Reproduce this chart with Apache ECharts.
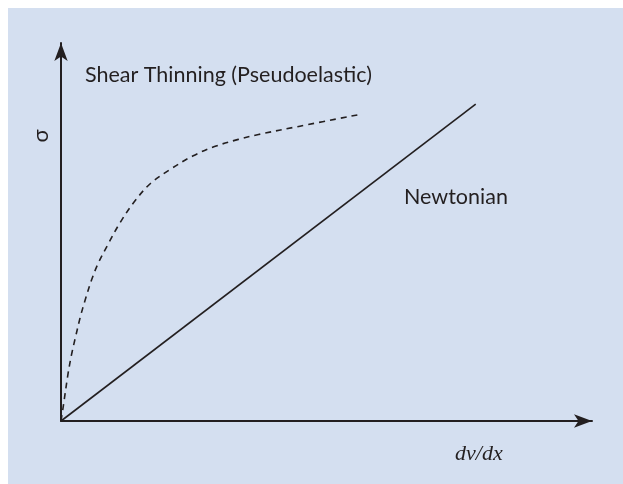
<!DOCTYPE html>
<html>
<head>
<meta charset="utf-8">
<script src="https://cdn.jsdelivr.net/npm/echarts@6/dist/echarts.min.js"></script>
<style>
html,body{margin:0;padding:0;background:#ffffff;}
#chart{width:623px;height:484px;}
</style>
</head>
<body>
<div id="chart"></div>
<script>
// Newtonian (straight line) points: [dv/dx, sigma]
const newtonianX = [0, 78.1];
const newtonianY = [0, 83.8];
// Shear thinning (pseudoelastic) curve
const shearX = [0, 0.42, 1.35, 2.05, 2.75, 3.65, 4.55, 5.75, 7.0, 8.8, 11.1, 13.8, 16.9, 20.6, 24.8, 28.9, 33.4, 37.2, 45.0, 55.9];
const shearY = [0, 3.8, 12.7, 18.0, 22.3, 27.6, 32.0, 37.3, 41.7, 46.6, 52.4, 58.0, 62.9, 66.6, 70.1, 72.6, 74.5, 75.8, 78.0, 81.0];
const labels = {
  shear: 'Shear Thinning (Pseudoelastic)',
  newtonian: 'Newtonian',
  yName: 'σ',
  xName: 'dv/dx'
};

const zip = (xs, ys) => xs.map((x, i) => [x, ys[i]]);
const ink = '#231f20';
const sans = 'Lato';

const chart = echarts.init(document.getElementById('chart'), null, {renderer: 'canvas'});
chart.setOption({
  animation: false,
  backgroundColor: '#ffffff',
  grid: {left: 61, right: 31, top: 43, bottom: 63},
  xAxis: {
    type: 'value', min: 0, max: 100,
    axisLine: {show: true, symbol: ['none', 'arrow'], symbolSize: [10, 18], lineStyle: {color: ink, width: 2}},
    axisTick: {show: false}, axisLabel: {show: false}, splitLine: {show: false}
  },
  yAxis: {
    type: 'value', min: 0, max: 100,
    axisLine: {show: true, symbol: ['none', 'arrow'], symbolSize: [10, 18], lineStyle: {color: ink, width: 2}},
    axisTick: {show: false}, axisLabel: {show: false}, splitLine: {show: false}
  },
  graphic: [
    {type: 'rect', z: -10, shape: {x: 8, y: 8, width: 640, height: 500}, style: {fill: '#d4dff0'}, silent: true},
    {type: 'text', left: 85, top: 64, style: {text: labels.shear, font: '21.5px ' + sans, fill: ink}},
    {type: 'text', left: 404, top: 186, style: {text: labels.newtonian, font: '21.5px ' + sans, fill: ink}},
    {type: 'text', x: 41, y: 136, rotation: Math.PI / 2, style: {text: labels.yName, font: '22px ' + sans, fill: ink, align: 'center', verticalAlign: 'middle'}},
    {type: 'text', left: 455, top: 443, style: {text: labels.xName, font: 'italic 22px "Liberation Serif"', fill: ink}}
  ],
  series: [
    {
      type: 'line', data: zip(newtonianX, newtonianY), showSymbol: false, symbol: 'none',
      lineStyle: {color: ink, width: 1.6}
    },
    {
      type: 'line', data: zip(shearX, shearY), showSymbol: false, symbol: 'none', smooth: 0.35,
      lineStyle: {color: ink, width: 1.6, type: [6, 5]}
    }
  ]
});
</script>
</body>
</html>
